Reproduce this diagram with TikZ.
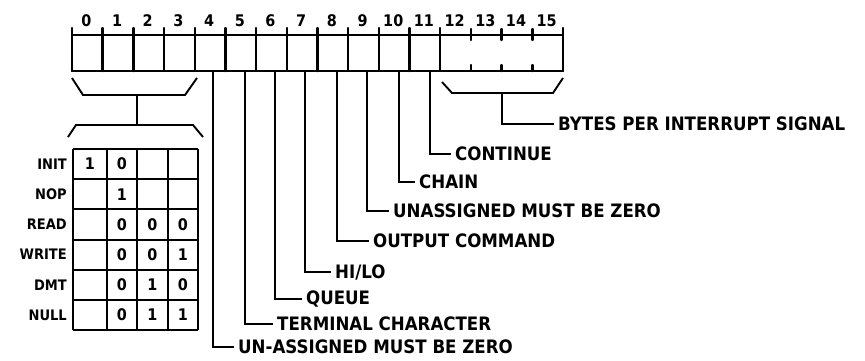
\documentclass[tikz,border=0pt]{standalone}
\usepackage{fontspec}
\setmainfont{DejaVu Sans}
\newfontfamily\condfont{DejaVu Sans Condensed}
\begin{document}
\begin{tikzpicture}[x=1pt,y=-1pt,
  reg/.style={line width=2.4pt,line cap=round},
  conn/.style={line width=1.9pt,line join=miter},
  grid/.style={line width=1.9pt},
  lab/.style={anchor=west,inner xsep=4pt,inner ysep=0pt,font=\condfont\fontsize{18.5}{18.5}\selectfont\bfseries},
  rowlab/.style={anchor=east,inner sep=0pt,font=\condfont\fontsize{14.5}{15}\selectfont\bfseries},
  digit/.style={inner sep=0pt,font=\condfont\fontsize{16}{16}\selectfont\bfseries},
  bitval/.style={inner sep=0pt,font=\condfont\fontsize{16}{16}\selectfont\bfseries}]
\useasboundingbox (0,0) rectangle (865,360);
% register outline
\def\cw{30.69}
\draw[reg] (72,35) -- (563,35);
\draw[reg] (72,71) -- (563,71);
\foreach \i in {0,...,12}{
  \draw[reg] ({72+\cw*\i},28) -- ({72+\cw*\i},71);
}
\draw[reg] (563,28) -- (563,71);
\foreach \i in {13,14,15}{
  \draw[reg] ({72+\cw*\i},29) -- ({72+\cw*\i},40);
  \draw[reg] ({72+\cw*\i},65) -- ({72+\cw*\i},71);
}
% bit numbers
\foreach \i in {0,...,15}{
  \node[digit] (n\i) at ({72+\cw*\i+\cw/2-1},21) {\i};
}
% upper bracket over bits 0-3
\coordinate (ba) at (72,78);
\coordinate (bb) at (83,95);
\coordinate (bc) at (185,95);
\coordinate (bd) at (197,78);
\draw[conn] (ba) -- (bb) -- (bc) -- (bd);
\coordinate (bs) at (137,95);
% lower bracket above table
\coordinate (la) at (68,137);
\coordinate (lb) at (76,125);
\coordinate (lc) at (193,125);
\coordinate (ld) at (203,137);
\draw[conn] (la) -- (lb) -- (lc) -- (ld);
\coordinate (ls) at (137,125);
\draw[conn] (bs) -- (ls);
% table
\def\rh{30.2}
\foreach \x in {73,107,137,168,198}{
  \draw[grid] (\x,149) -- (\x,{149+6*\rh});
}
\foreach \j in {0,...,6}{
  \draw[grid] (73,{149+\j*\rh}) -- (198,{149+\j*\rh});
}
\foreach \name [count=\j from 0] in {INIT,NOP,READ,WRITE,DMT,NULL}{
  \node[rowlab] (r\j) at (67,{149+\j*\rh+\rh/2}) {\name};
}
\foreach \row/\vals in {0/{1,0,,},1/{,1,,},2/{,0,0,0},3/{,0,0,1},4/{,0,1,0},5/{,0,1,1}}{
  \foreach \v [count=\k from 0] in \vals {
    \pgfmathsetmacro{\cx}{{90,122,152.5,183}[\k]}
    \node[bitval] (t\row-\k) at (\cx,{149+\row*\rh+\rh/2}) {\v};
  }
}
% field connectors
\node[lab] (f4) at (234,347) {UN-ASSIGNED MUST BE ZERO};
\node[lab] (f5) at (273,324) {TERMINAL CHARACTER};
\node[lab] (f6) at (302,299) {QUEUE};
\node[lab] (f7) at (331,272) {HI/LO};
\node[lab] (f8) at (369,241) {OUTPUT COMMAND};
\node[lab] (f9) at (389,211) {UNASSIGNED MUST BE ZERO};
\node[lab] (f10) at (415,182) {CHAIN};
\node[lab] (f11) at (451,154) {CONTINUE};
\node[lab] (f12) at (554,124) {BYTES PER INTERRUPT SIGNAL};
\coordinate (s4) at (213,71);
\coordinate (s5) at (245,71);
\coordinate (s6) at (275,71);
\coordinate (s7) at (305,71);
\coordinate (s8) at (337,71);
\coordinate (s9) at (367,71);
\coordinate (s10) at (399,71);
\coordinate (s11) at (430,71);
\foreach \i in {4,...,11}{
  \draw[conn] (s\i) |- (f\i.west);
}
% bracket under bits 12-15
\coordinate (ra) at (442,82);
\coordinate (rb) at (452,93);
\coordinate (rc) at (553,93);
\coordinate (rd) at (563,78);
\draw[conn] (ra) -- (rb) -- (rc) -- (rd);
\coordinate (rs) at (502,93);
\draw[conn] (rs) |- (f12.west);
\end{tikzpicture}
\end{document}
